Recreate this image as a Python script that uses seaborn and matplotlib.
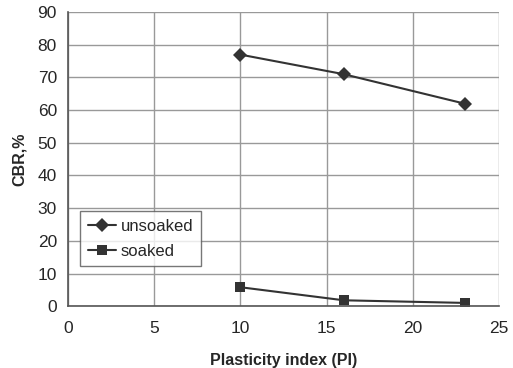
import matplotlib
matplotlib.use('Agg')
import matplotlib.pyplot as plt
import pandas as pd
import seaborn as sns

# Values
plasticity_index = [10, 16, 23]
cbr_unsoaked = [77, 71, 62]
cbr_soaked = [5.8, 1.8, 1.0]

df = pd.DataFrame({
    'PI': plasticity_index * 2,
    'CBR': cbr_unsoaked + cbr_soaked,
    'condition': ['unsoaked'] * 3 + ['soaked'] * 3,
})

sns.set_style('white')
plt.rcParams['font.family'] = ['Liberation Sans', 'DejaVu Sans']

fig = plt.figure(figsize=(5.13, 3.68), dpi=100)
ax = fig.add_axes([0.1326, 0.168, 0.8401, 0.799])

sns.lineplot(data=df, x='PI', y='CBR', hue='condition', style='condition',
             markers={'unsoaked': 'D', 'soaked': 's'}, dashes=False,
             palette={'unsoaked': '#333333', 'soaked': '#333333'},
             markersize=7, markeredgewidth=0, linewidth=1.5, ax=ax)

ax.set_xlim(0, 25)
ax.set_ylim(0, 90)
ax.set_xticks(range(0, 26, 5))
ax.set_yticks(range(0, 91, 10))
ax.grid(True, color='#999999', linewidth=1)
ax.set_axisbelow(True)
for side in ['top', 'right']:
    ax.spines[side].set_visible(False)
for side in ['left', 'bottom']:
    ax.spines[side].set_color('#555555')
    ax.spines[side].set_linewidth(1.2)
ax.tick_params(axis='both', direction='out', length=5, width=1, color='#555555',
               labelsize=12.5, pad=3)
ax.tick_params(axis='x', pad=6)

ax.set_xlabel('Plasticity index (PI)', fontsize=11.5, fontweight='bold', labelpad=12)
ax.set_ylabel('CBR,%', fontsize=11.5, fontweight='bold', labelpad=8)

leg = ax.legend(loc='lower left', bbox_to_anchor=(0.028, 0.136), fontsize=12,
                frameon=True, fancybox=False, handlelength=1.7, borderpad=0.45,
                labelspacing=0.6, handletextpad=0.3, borderaxespad=0)
leg.get_frame().set_edgecolor('#555555')
leg.get_frame().set_linewidth(1)

fig.savefig('out.png', dpi=100)
